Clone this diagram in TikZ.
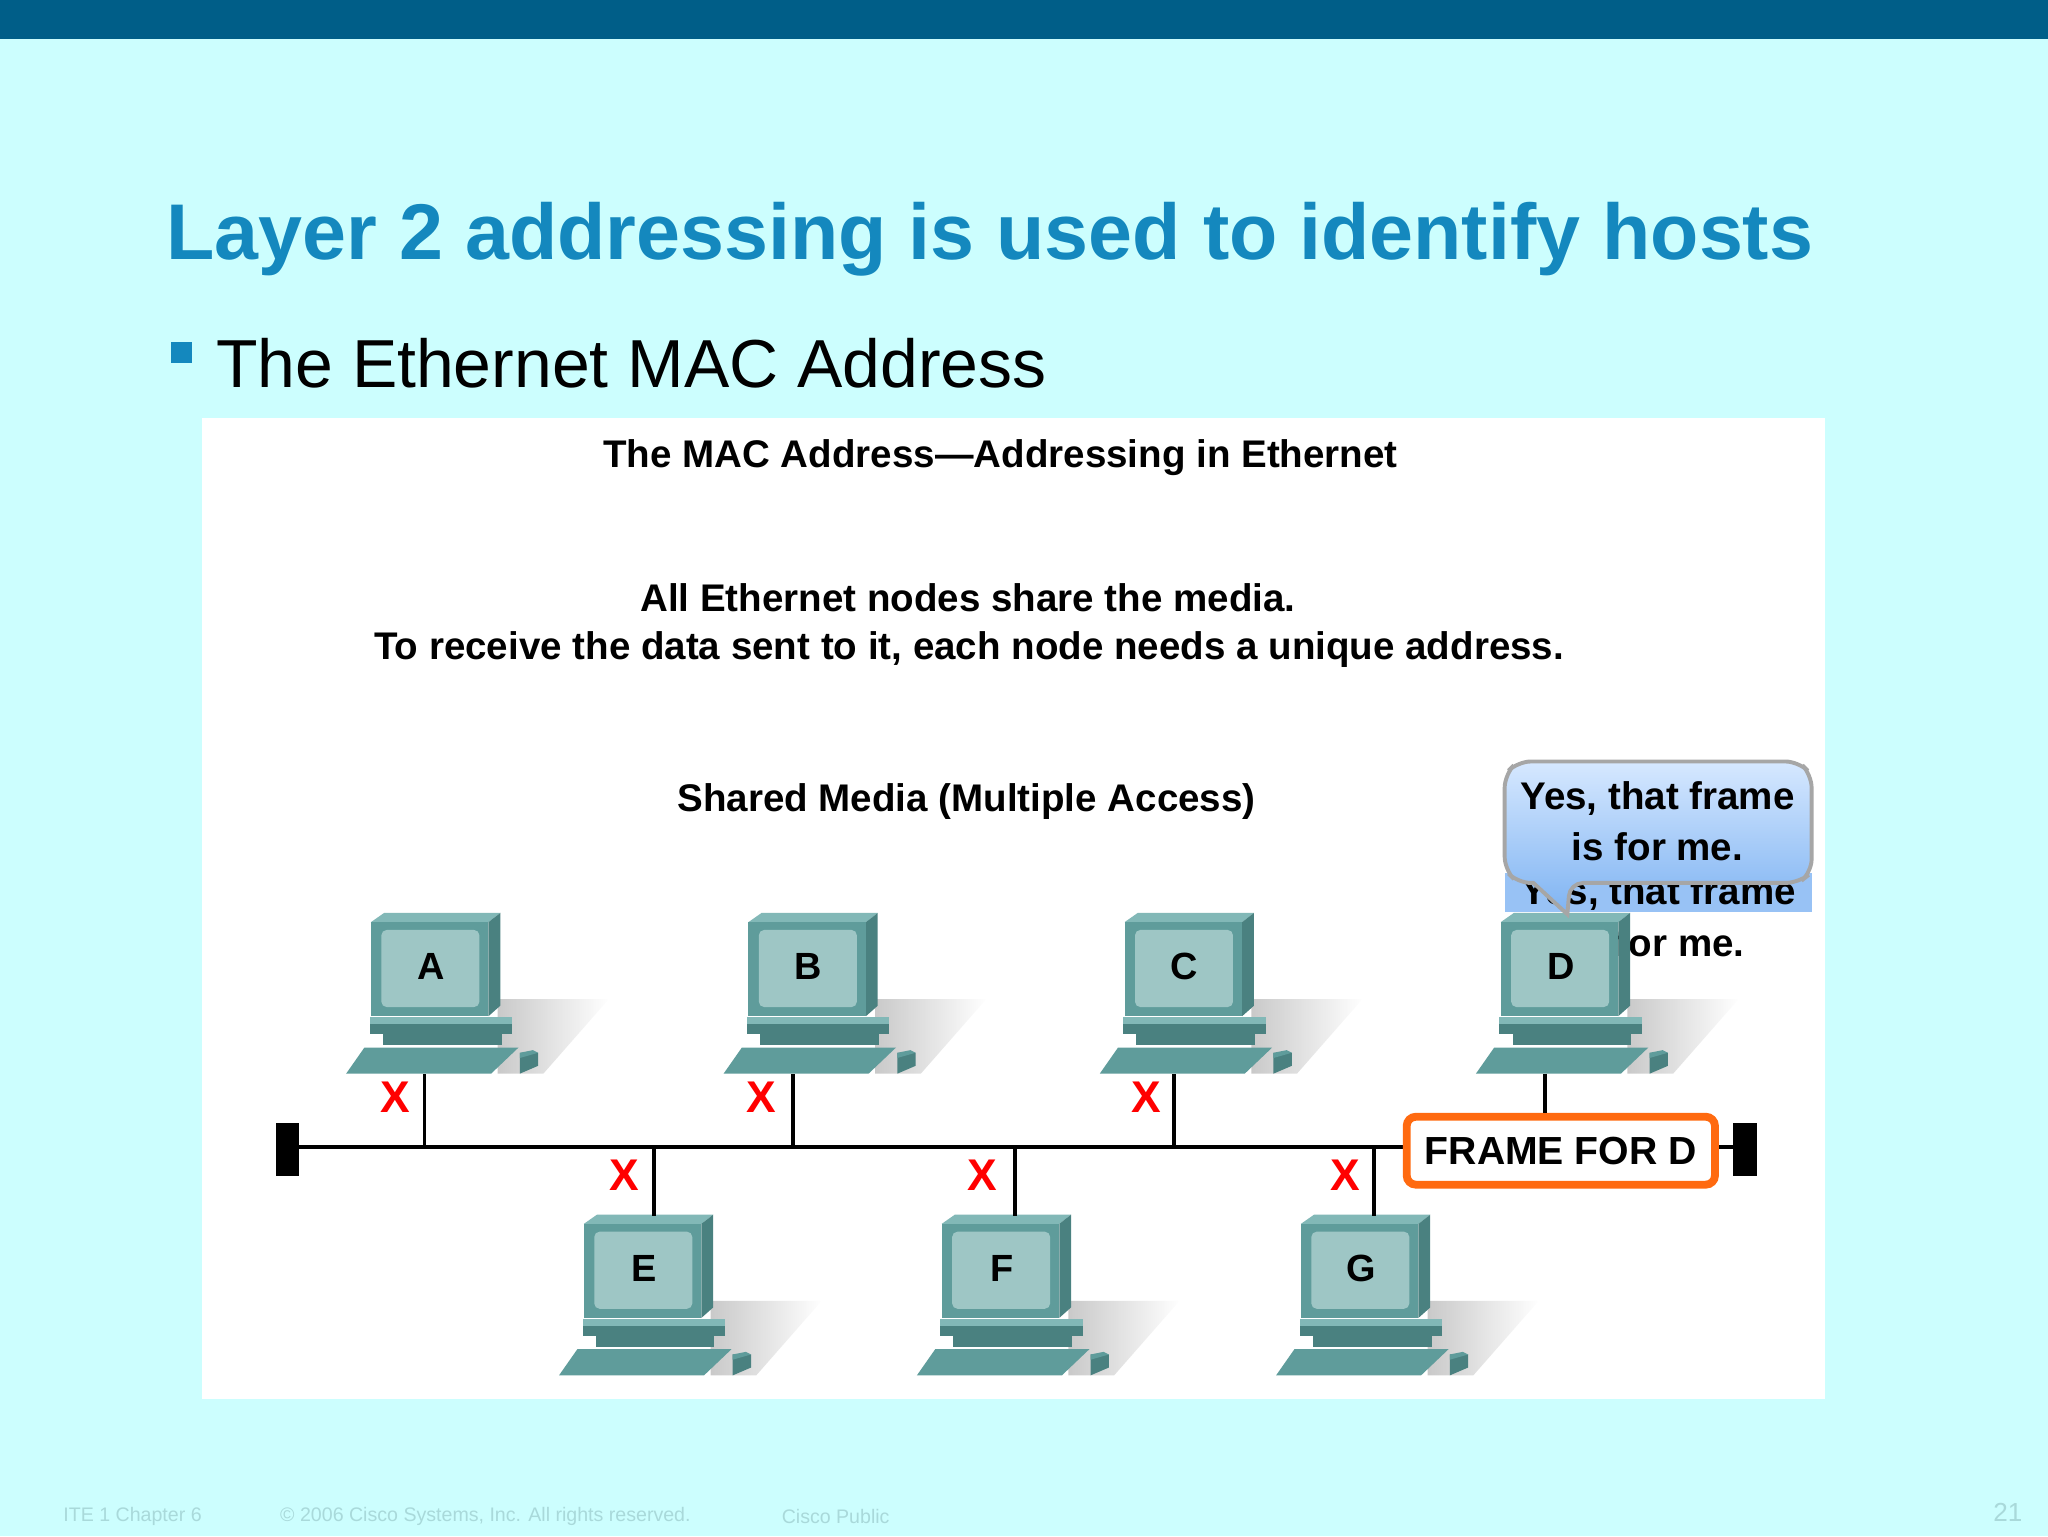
\documentclass[tikz,border=0pt]{standalone}
\usepackage{fontspec}
\setmainfont{Liberation Sans}
\usetikzlibrary{fadings}
\definecolor{bg}{HTML}{CCFEFE}
\definecolor{topbar}{HTML}{005E88}
\definecolor{ttl}{HTML}{1488BE}
\definecolor{pcf}{HTML}{5F9C9B}
\definecolor{pcs}{HTML}{4A8180}
\definecolor{pct}{HTML}{82B8B7}
\definecolor{pcscr}{HTML}{9EC6C5}
\definecolor{foot}{HTML}{A9D9DA}
\definecolor{bub1}{HTML}{D6E8FF}
\definecolor{bub2}{HTML}{7EB3F2}
\definecolor{frm}{HTML}{FF6A10}
\tikzset{
  pc/.pic={
    \fill[gray!70,path fading=east,opacity=0.6] (50,25) -- (135,25) -- (85,82) -- (50,82) -- cycle;
    \fill[pct] (-47,-34) -- (-37,-41) -- (52,-41) -- (43,-34) -- cycle;
    \fill[pcs] (43,-34) -- (52,-41) -- (52,30) -- (43,38) -- cycle;
    \fill[pcf] (-47,-34) rectangle (43,38);
    \fill[pcscr,rounded corners=4pt] (-39,-28) rectangle (36,31);
    \fill[pcs] (-48,39) rectangle (61,52);
    \fill[pct] (-48,39) rectangle (61,44);
    \fill[pcs] (-38,52) rectangle (53,60);
    \fill[pcf] (-66,82) -- (-52,62) -- (66,62) -- (45,82) -- cycle;
    \fill[pcs] (67,66) -- (81,66) -- (81,76) -- (67,82) -- cycle;
    \fill[pcf] (67,66) -- (77,64) -- (81,66) -- (67,70) -- cycle;
    \node[font=\bfseries\fontsize{29}{30}\selectfont] (-lbl) at (-1,0) {#1};
    \coordinate (-bot) at (-6,82);
  },
  xmark/.style={text=red,font=\bfseries\fontsize{34}{36}\selectfont},
  ptxt/.style={font=\bfseries\fontsize{29.5}{35}\selectfont,align=center},
  ftxt/.style={text=foot,font=\fontsize{15}{17}\selectfont,anchor=west},
  bus/.style={line width=3pt,black}
}
\begin{document}
\begin{tikzpicture}[x=1pt,y=-1pt]
\fill[bg] (0,0) rectangle (1568,1176);
\useasboundingbox (0,0) rectangle (1568,1176);
\fill[topbar] (0,0) rectangle (1568,30);
\node[anchor=west,text=ttl,font=\bfseries\fontsize{60.5}{64}\selectfont] (title) at (124,183) {Layer 2 addressing is used to identify hosts};
\fill[ttl] (131,262) rectangle (147,278);
\node[anchor=west,font=\fontsize{52}{56}\selectfont] (sub) at (162,278) {The Ethernet MAC Address};
\fill[white] (155,320) rectangle (1397,1071);
\node[ptxt] (h) at (766,350) {The MAC Address—Addressing in Ethernet};
\node[ptxt] (l1) at (741,458) {All Ethernet nodes share the media.};
\node[ptxt] (l2) at (742,497) {To receive the data sent to it, each node needs a unique address.};
\node[ptxt] (sm) at (740,614) {Shared Media (Multiple Access)};
% bus
\fill[black] (211,860) rectangle (229,900);
\fill[black] (1327,860) rectangle (1345,900);
\coordinate (bl) at (229,878);
\coordinate (br) at (1327,878);
\draw[bus] (bl) -- (br);
% ghost bubble
\fill[bub2!80] (1152,668) rectangle (1387,698);
\node[ptxt] (g1) at (1270,684) {Yes, that frame};
\node[ptxt] (g2) at (1270,722) {is for me.};
% computers
\pic (A) at (331,740) {pc={A}};
\pic (B) at (620,740) {pc={B}};
\pic (C) at (908,740) {pc={C}};
\pic (D) at (1196,740) {pc={D}};
\pic (E) at (494,971) {pc={E}};
\pic (F) at (768,971) {pc={F}};
\pic (G) at (1043,971) {pc={G}};
\foreach \n/\x in {A/325,B/607,C/899}{\coordinate (t\n) at (\x,878); \draw[bus] (t\n) -- (t\n |- \n-bot);}
\foreach \n/\x in {E/501,F/777,G/1052}{\coordinate (t\n) at (\x,878); \coordinate (u\n) at (\x,931); \draw[bus] (t\n) -- (u\n);}
\node[xmark] (xa) at (303,840) {X};
\node[xmark] (xb) at (583,840) {X};
\node[xmark] (xc) at (878,840) {X};
\node[xmark] (xe) at (478,900) {X};
\node[xmark] (xf) at (752,900) {X};
\node[xmark] (xg) at (1030,900) {X};
% frame
\node[draw=frm,line width=6pt,fill=white,rounded corners=7pt,minimum width=236pt,minimum height=52pt,font=\bfseries\fontsize{30}{32}\selectfont] (fr) at (1195,881) {FRAME FOR D};
\coordinate (dtop) at (1183,822);
\draw[bus] (dtop) -- (dtop |- fr.north);
% bubble
\shade[top color=bub1,bottom color=bub2,draw=gray!70,line width=3pt,rounded corners=10pt]
  (1162,583) -- (1377,583) -- (1387,593) -- (1387,668) -- (1377,676) -- (1202,676) [sharp corners] -- (1200,700) -- (1174,676) [rounded corners=10pt] -- (1162,676) -- (1152,666) -- (1152,593) -- cycle;
\node[ptxt,align=center,font=\bfseries\fontsize{29.5}{39}\selectfont] (bt) at (1269,629) {Yes, that frame\\is for me.};
% footer
\node[ftxt] (f1) at (45,1161) {ITE 1 Chapter 6};
\node[ftxt] (f2) at (211,1161) {© 2006 Cisco Systems, Inc. All rights reserved.};
\node[ftxt] (f3) at (595,1161) {Cisco Public};
\node[text=foot,anchor=east,font=\fontsize{20}{22}\selectfont] (f4) at (1552,1158) {21};
\end{tikzpicture}
\end{document}
